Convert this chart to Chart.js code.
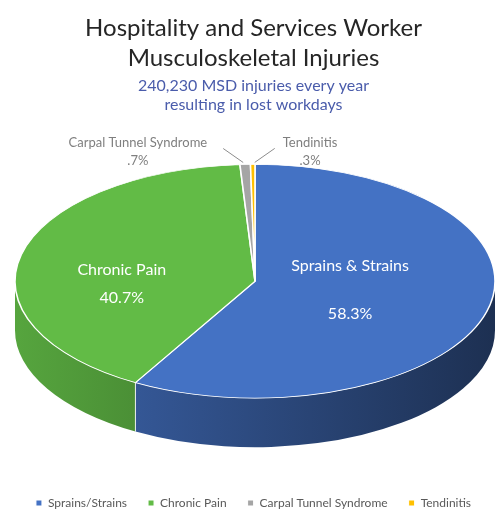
<!DOCTYPE html>
<html><head><meta charset="utf-8">
<script src="https://cdn.jsdelivr.net/npm/chart.js@4.4.1/dist/chart.umd.min.js"></script>
<style>html,body{margin:0;padding:0;background:#fff}#wrap{width:495px;height:510px;position:relative}</style>
</head><body><div id="wrap"><canvas id="c"></canvas></div>
<script>
const categories = ['Sprains/Strains', 'Chronic Pain', 'Carpal Tunnel Syndrome', 'Tendinitis'];
const sliceLabels = ['Sprains & Strains', 'Chronic Pain', 'Carpal Tunnel Syndrome', 'Tendinitis'];
const shares = [58.3, 40.7, 0.7, 0.3];
const sliceColors = ['#4472C4', '#62BB46', '#A5A5A5', '#FFC000'];
const titleLines = ['Hospitality and Services Worker', 'Musculoskeletal Injuries'];
const subtitleLines = ['240,230 MSD injuries every year', 'resulting in lost workdays'];

const FONT = 'Lato, "Open Sans", sans-serif';
function pctText(v) { return (v < 1 ? String(v).replace(/^0/, '') : String(v)) + '%'; }
function shade(hex, f) {
  const n = parseInt(hex.slice(1), 16);
  const r = Math.round(((n >> 16) & 255) * f), g = Math.round(((n >> 8) & 255) * f), b = Math.round((n & 255) * f);
  return 'rgb(' + r + ',' + g + ',' + b + ')';
}

const pie3d = {
  id: 'pie3d',
  geom(chart, opts) {
    const a = chart.chartArea;
    const left = a.left + opts.inset;
    const rx = (a.right - left) / 2;
    const ry = rx * opts.tilt;
    return { X: (left + a.right) / 2, Y: a.top + ry, rx, ry };
  },
  pt(g, ang, f) { return { x: g.X + f * g.rx * Math.cos(ang), y: g.Y + f * g.ry * Math.sin(ang) }; },
  beforeDatasetsDraw(chart, args, opts) {
    const ctx = chart.ctx, g = this.geom(chart, opts), meta = chart.getDatasetMeta(0), D = opts.depth;
    ctx.save();
    meta.data.forEach((arc) => {
      const base = arc.options.backgroundColor;
      [0, 2 * Math.PI].forEach(off => {
        const s = Math.max(arc.startAngle, off), e = Math.min(arc.endAngle, off + Math.PI);
        if (e <= s) return;
        const grad = ctx.createLinearGradient(g.X - g.rx, 0, g.X + g.rx, 0);
        grad.addColorStop(0, shade(base, 0.88));
        grad.addColorStop(1, shade(base, 0.42));
        ctx.beginPath();
        ctx.ellipse(g.X, g.Y, g.rx, g.ry, 0, s, e, false);
        ctx.ellipse(g.X, g.Y + D, g.rx, g.ry, 0, e, s, true);
        ctx.closePath();
        ctx.fillStyle = grad;
        ctx.fill();
      });
    });
    ctx.strokeStyle = 'rgba(255,255,255,0.85)';
    ctx.lineWidth = 1;
    meta.data.forEach((arc) => {
      const a = arc.startAngle;
      if (Math.sin(a) > 0.05) {
        const p = this.pt(g, a, 1);
        ctx.beginPath(); ctx.moveTo(p.x, p.y); ctx.lineTo(p.x, p.y + D); ctx.stroke();
      }
    });
    ctx.restore();
    const a0 = meta.data[0];
    ctx.save();
    ctx.translate(g.X, g.Y);
    ctx.scale(g.rx / a0.outerRadius, g.ry / a0.outerRadius);
    ctx.translate(-a0.x, -a0.y);
  },
  afterDatasetsDraw(chart, args, opts) {
    const ctx = chart.ctx;
    ctx.restore();
    const g = this.geom(chart, opts), meta = chart.getDatasetMeta(0);
    ctx.save();
    ctx.textAlign = 'center';
    ctx.textBaseline = 'middle';
    meta.data.forEach((arc, i) => {
      const mid = (arc.startAngle + arc.endAngle) / 2;
      const ins = opts.inside[i];
      if (ins) {
        const p = this.pt(g, mid, ins.r);
        const cy = p.y + ins.dy;
        ctx.fillStyle = '#ffffff';
        ctx.font = '16px ' + FONT;
        ctx.fillText(sliceLabels[i], p.x, cy - ins.gap / 2);
        ctx.fillText(pctText(shares[i]), p.x, cy + ins.gap / 2);
      } else {
        const o = opts.outside[i];
        const rim = this.pt(g, mid, 1);
        const sx = rim.x + o.dir * 2, sy = rim.y - 2;
        const ex = sx + o.dir * 20, ey = sy - 14;
        ctx.strokeStyle = '#8c8c8c';
        ctx.lineWidth = 1;
        ctx.beginPath(); ctx.moveTo(sx, sy); ctx.lineTo(ex, ey); ctx.stroke();
        ctx.font = '13px ' + FONT;
        ctx.fillStyle = '#7f7f7f';
        const w = Math.max(ctx.measureText(sliceLabels[i]).width, ctx.measureText(pctText(shares[i])).width);
        const cx = ex + o.dir * (o.gap + w / 2);
        ctx.fillText(sliceLabels[i], cx, ey - 6);
        ctx.fillText(pctText(shares[i]), cx, ey + 12);
      }
    });
    ctx.restore();
  }
};

new Chart(document.getElementById('c'), {
  type: 'pie',
  data: {
    labels: categories,
    datasets: [{
      data: shares,
      backgroundColor: sliceColors,
      borderColor: '#ffffff',
      borderWidth: 1,
      clip: false
    }]
  },
  plugins: [pie3d],
  options: {
    responsive: true,
    maintainAspectRatio: false,
    animation: false,
    events: [],
    layout: { padding: { left: 12, right: 0, top: 0, bottom: -9 } },
    plugins: {
      pie3d: {
        inset: 3,
        tilt: 0.487,
        depth: 49,
        inside: { 0: { r: 0.41, dy: -4, gap: 48 }, 1: { r: 0.57, dy: 18, gap: 28 } },
        outside: { 2: { dir: -1, gap: 16 }, 3: { dir: 1, gap: 8 } }
      },
      tooltip: { enabled: false },
      title: {
        display: true,
        text: titleLines,
        color: '#262626',
        font: { family: FONT, size: 24, weight: 'normal', lineHeight: 1.25 },
        padding: { top: 13, bottom: 3 }
      },
      subtitle: {
        display: true,
        text: subtitleLines,
        color: '#4a5cab',
        font: { family: FONT, size: 16, weight: 'normal', lineHeight: 1.2 },
        padding: { top: 0, bottom: 50 }
      },
      legend: {
        position: 'bottom',
        labels: {
          boxWidth: 6,
          boxHeight: 6,
          padding: 21,
          color: '#595959',
          font: { family: FONT, size: 12 }
        }
      }
    }
  }
});
</script>
</body></html>
